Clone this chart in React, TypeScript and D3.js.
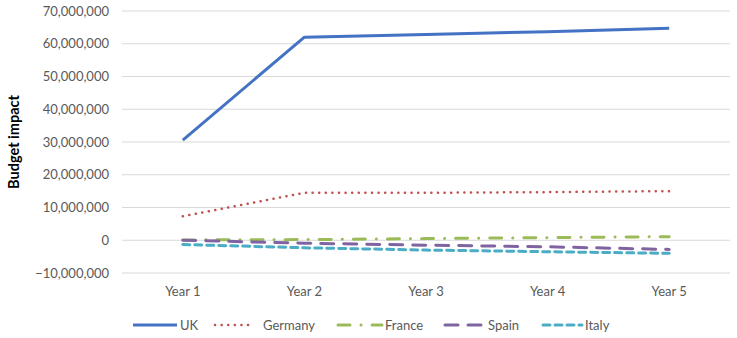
import React from "react";
import * as d3 from "d3";

const years = ["Year 1", "Year 2", "Year 3", "Year 4", "Year 5"];
const countries = ["UK", "Germany", "France", "Spain", "Italy"];
const uk = [30600000, 62000000, 62800000, 63700000, 64700000];
const germany = [7300000, 14500000, 14500000, 14700000, 15000000];
const france = [100000, 200000, 500000, 800000, 1100000];
const spain = [0, -900000, -1500000, -2000000, -2800000];
const italy = [-1300000, -2300000, -3000000, -3500000, -4000000];
const yTicks = [-10000000, 0, 10000000, 20000000, 30000000, 40000000, 50000000, 60000000, 70000000];

const seriesValues = [uk, germany, france, spain, italy];
const styles = [
  { color: "#4472C4", width: 3, dash: "", cap: "butt" },
  { color: "#C0504D", width: 2.5, dash: "0.1 6.5", cap: "round" },
  { color: "#9BBB59", width: 3, dash: "12 11 0.1 11", cap: "round" },
  { color: "#8064A2", width: 3, dash: "13 10", cap: "round" },
  { color: "#4BACC6", width: 3, dash: "7 5", cap: "round" },
];

const W = 737, H = 338;
const M = { left: 122, right: 730, top: 11, bottom: 273 };
const font = "Lato, 'Open Sans', sans-serif";

export default function App() {
  const x = d3.scaleBand<string>().domain(years).range([M.left, M.right]);
  const y = d3.scaleLinear().domain([-10000000, 70000000]).range([M.bottom, M.top]);
  const fmt = d3.format(",");
  const line = d3.line<number>().x((_, i) => (x(years[i]) as number) + x.bandwidth() / 2).y((d) => y(d));

  // legend swatch start, swatch length, label start
  const legendX = [133, 215, 338, 445, 543];
  const legendLen = [44, 38, 44, 38, 39];
  const labelX = [180, 263, 385, 488, 585];

  return (
    <div style={{ position: "absolute", left: 0, top: 0 }}>
      <svg width={W} height={H} style={{ display: "block", background: "#fff" }}>
        {yTicks.map((t) => (
          <g key={t}>
            <line x1={M.left} x2={M.right} y1={y(t)} y2={y(t)} stroke="#D9D9D9" strokeWidth={1} />
            <text x={109} y={y(t)} dy="0.35em" textAnchor="end" fontFamily={font} fontSize={13} fill="#595959">
              {fmt(t)}
            </text>
          </g>
        ))}
        {years.map((yr) => (
          <text key={yr} x={(x(yr) as number) + x.bandwidth() / 2} y={296} textAnchor="middle" fontFamily={font} fontSize={13} fill="#595959">
            {yr}
          </text>
        ))}
        <text transform={`translate(14,142) rotate(-90)`} textAnchor="middle" dy="0.35em" fontFamily={font} fontSize={14.5} fontWeight="bold" fill="#000">
          Budget impact
        </text>
        {seriesValues.map((vals, i) => (
          <path key={countries[i]} d={line(vals) || ""} fill="none" stroke={styles[i].color} strokeWidth={styles[i].width}
            strokeDasharray={styles[i].dash || undefined} strokeLinecap={styles[i].cap as any} strokeLinejoin="round" />
        ))}
        {countries.map((c, i) => (
          <g key={c}>
            <line x1={legendX[i]} x2={legendX[i] + legendLen[i]} y1={325} y2={325} stroke={styles[i].color} strokeWidth={styles[i].width}
              strokeDasharray={styles[i].dash || undefined} strokeLinecap={styles[i].cap as any} />
            <text x={labelX[i]} y={325} dy="0.35em" fontFamily={font} fontSize={13} fill="#595959">{c}</text>
          </g>
        ))}
      </svg>
    </div>
  );
}
